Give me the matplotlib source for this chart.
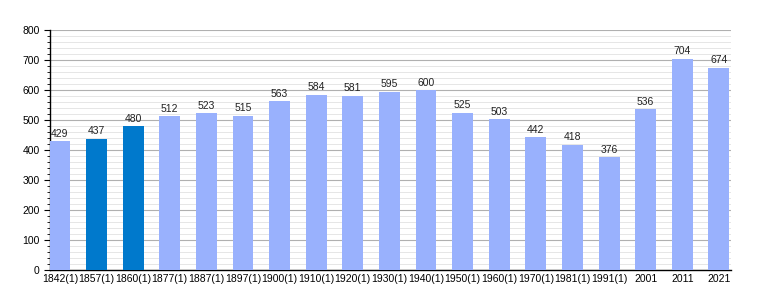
import matplotlib.pyplot as plt
from matplotlib.ticker import MultipleLocator

years = ['1842(1)', '1857(1)', '1860(1)', '1877(1)', '1887(1)', '1897(1)', '1900(1)',
         '1910(1)', '1920(1)', '1930(1)', '1940(1)', '1950(1)', '1960(1)', '1970(1)',
         '1981(1)', '1991(1)', '2001', '2011', '2021']
population = [429, 437, 480, 512, 523, 515, 563, 584, 581, 595, 600, 525, 503, 442,
              418, 376, 536, 704, 674]
highlight = ['1857(1)', '1860(1)']

plt.rcParams['font.family'] = ['Liberation Sans', 'DejaVu Sans']

fig = plt.figure(figsize=(7.6, 3.0), dpi=100)
ax = fig.add_axes([50 / 760, 30 / 300, 681 / 760, 240 / 300])

colors = ['#0079cc' if y in highlight else '#99b1fd' for y in years]
x = range(len(years))
bars = ax.bar(x, population, width=0.57, color=colors, zorder=3)

for xi, v in zip(x, population):
    ax.text(xi, v + 8, str(v), ha='center', va='bottom', fontsize=7.5, color='#222222', zorder=4)

ax.set_xlim(-0.27, 18.33)
ax.set_ylim(0, 800)
ax.set_xticks(list(x))
ax.set_xticklabels(years, fontsize=7.5)
ax.yaxis.set_major_locator(MultipleLocator(100))
ax.yaxis.set_minor_locator(MultipleLocator(20))
ax.tick_params(axis='y', labelsize=7.5, length=4, width=0.8)
ax.tick_params(axis='y', which='minor', length=2, width=0.6)
ax.tick_params(axis='x', length=0, pad=3)

ax.grid(axis='y', which='major', color='#b0b0b0', linewidth=0.8, zorder=0)
ax.grid(axis='y', which='minor', color='#e2e2e2', linewidth=0.6, zorder=0)

for s in ['top', 'right']:
    ax.spines[s].set_visible(False)
ax.spines['left'].set_linewidth(1)
ax.spines['bottom'].set_linewidth(1)

fig.savefig('out.png', dpi=100)
